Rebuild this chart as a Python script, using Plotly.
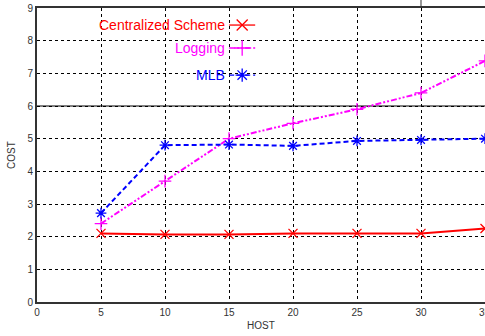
import plotly.graph_objects as go

hosts = [5, 10, 15, 20, 25, 30, 35]
centralized = [2.1, 2.07, 2.07, 2.1, 2.1, 2.1, 2.25]
logging = [2.4, 3.7, 5.0, 5.47, 5.9, 6.4, 7.38]
mlb = [2.72, 4.8, 4.82, 4.78, 4.93, 4.96, 5.0]

series_names = ["Centralized Scheme", "Logging", "MLB"]
series_colors = ["#ff0000", "#ff00ff", "#0000ff"]
series_dash = ["solid", "6px,2px,2px,2px,2px,2px", "5px,3px"]
series_symbols = ["x-thin-open", "cross-thin-open", "asterisk-open"]
series_data = [centralized, logging, mlb]

x_ticks = [0, 5, 10, 15, 20, 25, 30, 35]
y_ticks = list(range(0, 10))

# legend placement (fractions of plot area)
leg_text_x = 0.423
leg_line_x0 = 0.429
leg_line_x1 = 0.487
leg_mark_x = 0.458
leg_y = [0.942, 0.864, 0.772]

fig = go.Figure()

for name, col, dash, sym, vals in zip(series_names, series_colors, series_dash, series_symbols, series_data):
    fig.add_trace(go.Scatter(
        x=hosts, y=vals, mode="lines+markers", name=name,
        line=dict(color=col, width=2, dash=dash),
        marker=dict(symbol=sym, size=9, color=col, line=dict(color=col, width=1.3)),
        showlegend=False, cliponaxis=False,
    ))

for i, (name, col, dash, sym) in enumerate(zip(series_names, series_colors, series_dash, series_symbols)):
    fig.add_trace(go.Scatter(
        x=[leg_line_x0, leg_line_x1], y=[leg_y[i], leg_y[i]], mode="lines",
        line=dict(color=col, width=1.3, dash=dash),
        xaxis="x2", yaxis="y2", showlegend=False, hoverinfo="skip",
    ))
    fig.add_trace(go.Scatter(
        x=[leg_mark_x], y=[leg_y[i]], mode="markers",
        marker=dict(symbol=sym, size=11, color=col, line=dict(color=col, width=1.3)),
        xaxis="x2", yaxis="y2", showlegend=False, hoverinfo="skip",
    ))
    fig.add_annotation(
        x=leg_text_x, y=leg_y[i], xref="x2", yref="y2", text=name,
        showarrow=False, xanchor="right", yanchor="middle",
        font=dict(family="Liberation Sans Narrow, Liberation Sans", size=14, color=col),
    )

# last x tick label (sits at the right edge of the page)
fig.add_annotation(x=x_ticks[-1], y=0, xref="x", yref="paper", text=str(x_ticks[-1]),
                   showarrow=False, xanchor="center", yanchor="top", yshift=-3,
                   font=dict(size=10, color="#333333"))

# solid line at y=6
fig.add_shape(type="line", x0=0, x1=35, y0=6, y1=6, xref="x", yref="y",
              line=dict(color="#555555", width=1.5), layer="below")
# small tick above top border at x=30
fig.add_shape(type="line", x0=30, x1=30, y0=1, y1=1.03, xref="x", yref="paper",
              line=dict(color="#333333", width=1))

fig.update_layout(
    width=485, height=336,
    margin=dict(l=37, r=0, t=8, b=34),
    paper_bgcolor="white", plot_bgcolor="white",
    font=dict(family="Liberation Sans", size=10, color="#333333"),
    xaxis=dict(range=[0, 35], tickvals=x_ticks, showgrid=True, gridcolor="black",
               griddash="dot", gridwidth=1, showline=True, linecolor="#333333",
               linewidth=2, mirror=True, ticks="", zeroline=False, automargin=False,
               title=dict(text="HOST", font=dict(size=10), standoff=5),
               tickfont=dict(size=10)),
    yaxis=dict(range=[0, 9], tickvals=y_ticks, showgrid=True, gridcolor="black",
               griddash="dot", gridwidth=1, showline=True, linecolor="#333333",
               linewidth=2, ticks="", zeroline=False, automargin=False,
               title=dict(text="COST", font=dict(size=10), standoff=10),
               tickfont=dict(size=10)),
    xaxis2=dict(range=[0, 1], overlaying="x", visible=False, domain=[0, 1]),
    yaxis2=dict(range=[0, 1], overlaying="y", visible=False),
)

fig.write_html("out.html", config={"displayModeBar": False},
               post_script="document.body.style.margin='0';")
